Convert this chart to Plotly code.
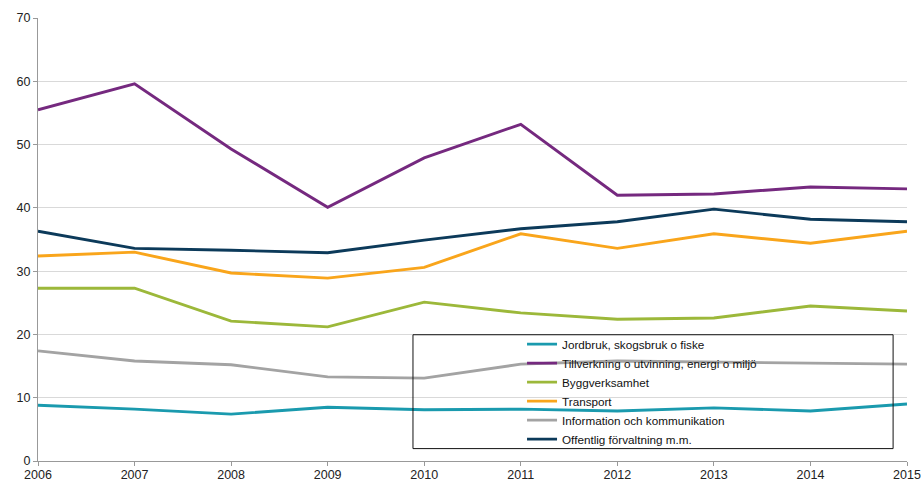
import plotly.graph_objects as go

years = [2006, 2007, 2008, 2009, 2010, 2011, 2012, 2013, 2014, 2015]

series_names = [
    "Jordbruk, skogsbruk o fiske",
    "Tillverkning o utvinning, energi o miljö",
    "Byggverksamhet",
    "Transport",
    "Information och kommunikation",
    "Offentlig förvaltning m.m.",
]

jordbruk = [8.8, 8.2, 7.4, 8.5, 8.1, 8.2, 7.9, 8.4, 7.9, 9.0]
tillverkning = [55.5, 59.6, 49.3, 40.1, 47.9, 53.2, 42.0, 42.2, 43.3, 43.0]
bygg = [27.3, 27.3, 22.1, 21.2, 25.1, 23.4, 22.4, 22.6, 24.5, 23.7]
transport = [32.4, 33.0, 29.7, 28.9, 30.6, 35.9, 33.6, 35.9, 34.4, 36.3]
information = [17.4, 15.8, 15.2, 13.3, 13.1, 15.3, 15.8, 15.6, 15.5, 15.3]
offentlig = [36.3, 33.6, 33.3, 32.9, 34.9, 36.7, 37.8, 39.8, 38.2, 37.8]

colors = ["#1A9AAE", "#75297F", "#9CB83A", "#F9A51B", "#A3A3A3", "#0C3A5A"]
values = [jordbruk, tillverkning, bygg, transport, information, offentlig]

y_ticks = [0, 10, 20, 30, 40, 50, 60, 70]

fig = go.Figure()
for name, vals, col in zip(series_names, values, colors):
    fig.add_trace(go.Scatter(
        x=years, y=vals, name=name, mode="lines",
        line=dict(color=col, width=2.9),
    ))

fig.update_layout(
    width=921, height=481,
    margin=dict(l=38, r=14, t=18, b=19.5),
    paper_bgcolor="white", plot_bgcolor="white",
    font=dict(family="Liberation Sans, Arial", size=12, color="#222222"),
    showlegend=True,
    legend=dict(
        x=0.557, y=0.2965, xanchor="left", yanchor="top",
        bgcolor="rgba(0,0,0,0)", borderwidth=0,
        font=dict(size=11.7, color="#111111"),
        itemwidth=30, tracegroupgap=0,
    ),
    shapes=[dict(
        type="rect", xref="paper", yref="paper",
        x0=0.4315, x1=0.984, y0=0.028, y1=0.285,
        line=dict(color="#111111", width=1), fillcolor="rgba(0,0,0,0)",
    )],
)
fig.update_xaxes(
    range=[2006, 2015], tickvals=years, ticktext=[str(y) for y in years],
    showgrid=False, showline=True, linecolor="#999999", linewidth=1,
    ticks="outside", ticklen=4, tickcolor="#999999",
    tickfont=dict(size=12.5, color="#222222"), zeroline=False,
    automargin=False, ticklabelstandoff=-2, ticklabeloverflow="allow",
)
fig.update_yaxes(
    range=[0, 70], tickvals=y_ticks,
    showgrid=True, gridcolor="#D9D9D9", gridwidth=1,
    showline=True, linecolor="#999999", linewidth=1,
    ticks="outside", ticklen=4, tickcolor="#999999",
    tickfont=dict(size=12.5, color="#222222"), zeroline=False,
    automargin=False,
)

fig.write_html(
    "out.html",
    config={"displayModeBar": False},
    post_script="document.body.style.margin='0';document.body.style.overflow='hidden';",
)
